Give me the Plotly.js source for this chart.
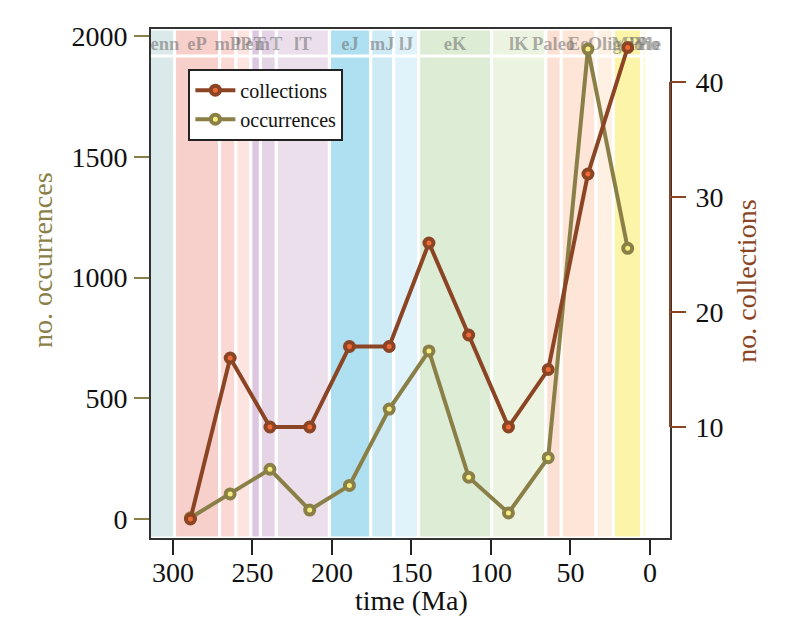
<!DOCTYPE html>
<html>
<head>
<meta charset="utf-8">
<script src="https://cdn.plot.ly/plotly-3.0.1.min.js"></script>
<style>
  html, body { margin: 0; padding: 0; background: #fff; }
  #chart { width: 789px; height: 617px; }
</style>
</head>
<body>
<div id="chart"></div>
<script>
// time bin midpoints (Ma)
const timeMa = [289, 264, 239, 214, 189, 164, 139, 114, 89, 64, 39, 14];
const collections = [2, 16, 10, 10, 17, 17, 26, 18, 10, 15, 32, 43];
const occurrences = [5, 104, 206, 37, 139, 455, 696, 173, 25, 254, 1946, 1121];

// geological intervals (Ma)
const intervalNames = ["Penn", "eP", "mP", "lP", "eT", "mT", "lT", "eJ", "mJ", "lJ",
  "eK", "lK", "Paleo", "Eo", "Olig", "Mio", "Plio", "Ple"];
const intervalBase = [318.1, 299.0, 270.6, 260.4, 251.0, 245.0, 235.0, 201.6, 175.6, 161.2,
  145.5, 99.6, 65.5, 55.8, 33.9, 23.03, 5.332, 1.806];
const intervalTop = [299.0, 270.6, 260.4, 251.0, 245.0, 235.0, 201.6, 175.6, 161.2, 145.5,
  99.6, 65.5, 55.8, 33.9, 23.03, 5.332, 1.806, 0.0118];
const intervalColors = ["#dae9e9", "#f8d0cb", "#fad8d3", "#fde4e1", "#ddc7e0", "#e5d3e6",
  "#eadfeb", "#afe0f1", "#cdeaf5", "#e1f3fa", "#ddecd5", "#ecf4e1", "#fde0d4", "#fde5d8",
  "#fef0e3", "#fcf5a9", "#fffadc", "#fffbec"];

const olive = "#8a7f47";
const brown = "#8b4524";
const serif = "Liberation Serif, Times New Roman, serif";

const bands = intervalNames.map((n, i) => ({
  type: "rect", layer: "below",
  xref: "x", yref: "paper",
  x0: intervalBase[i], x1: intervalTop[i], y0: 0, y1: 1,
  fillcolor: intervalColors[i],
  line: { color: "#ffffff", width: 3 },
}));

const shapes = bands.concat([
  { type: "line", layer: "below", xref: "paper", yref: "y",
    x0: 0, x1: 1, y0: 1917, y1: 1917, line: { color: "#ffffff", width: 3 } },
  { type: "line", layer: "above", xref: "paper", yref: "y2",
    x0: 1, x1: 1, y0: 10, y1: 40, line: { color: brown, width: 2 } },
]);

const labelTrace = {
  x: intervalNames.map((n, i) => (intervalBase[i] + intervalTop[i]) / 2),
  y: intervalNames.map(() => 1962),
  text: intervalNames,
  mode: "text",
  textposition: "middle center",
  textfont: { family: serif, size: 18.5, color: "rgba(105,105,105,0.55)", weight: "bold" },
  cliponaxis: true,
  hoverinfo: "skip",
  showlegend: false,
  yaxis: "y",
};

const occTrace = {
  x: timeMa, y: occurrences,
  name: "occurrences",
  mode: "lines+markers",
  line: { color: olive, width: 4 },
  marker: { size: 9, color: "#f6ee7e", line: { color: olive, width: 4 } },
  legendrank: 2,
  yaxis: "y",
};

const colTrace = {
  x: timeMa, y: collections,
  name: "collections",
  mode: "lines+markers",
  line: { color: brown, width: 4 },
  marker: { size: 9, color: "#f06a36", line: { color: brown, width: 4 } },
  legendrank: 1,
  yaxis: "y2",
};

const layout = {
  width: 789, height: 617,
  margin: { l: 151, r: 119, t: 29, b: 79 },
  paper_bgcolor: "#ffffff",
  plot_bgcolor: "#ffffff",
  font: { family: serif, size: 28, color: "#111" },
  showlegend: true,
  legend: {
    x: 0.072, y: 0.922, xanchor: "left", yanchor: "top",
    bgcolor: "#ffffff", bordercolor: "#222", borderwidth: 2,
    font: { family: serif, size: 20, color: "#111" },
    itemwidth: 40,
    tracegroupgap: 0,
  },
  xaxis: {
    range: [313.8, -12.6],
    tickvals: [300, 250, 200, 150, 100, 50, 0],
    ticks: "outside", ticklen: 15, tickwidth: 2, tickcolor: "#222",
    ticklabelstandoff: -7,
    showline: true, mirror: true, linecolor: "#333", linewidth: 2,
    showgrid: false, zeroline: false,
  },
  yaxis: {
    range: [-78.7, 2029],
    tickvals: [0, 500, 1000, 1500, 2000],
    ticks: "outside", ticklen: 15, tickwidth: 2, tickcolor: olive,
    ticklabelstandoff: 1,
    showline: true, mirror: true, linecolor: "#333", linewidth: 2,
    showgrid: false, zeroline: false,
  },
  yaxis2: {
    range: [0.35, 44.61],
    overlaying: "y", side: "right",
    tickvals: [10, 20, 30, 40],
    ticks: "outside", ticklen: 15, tickwidth: 2, tickcolor: brown,
    ticklabelstandoff: 4,
    showline: false, showgrid: false, zeroline: false,
  },
  shapes: shapes,
  annotations: [
    { text: "no. occurrences", xref: "paper", yref: "paper", x: -0.209, y: 0.545,
      xanchor: "center", yanchor: "middle",
      textangle: -90, showarrow: false, font: { family: serif, size: 28, color: olive } },
    { text: "no. collections", xref: "paper", yref: "paper", x: 1.148, y: 0.505,
      xanchor: "center", yanchor: "middle",
      textangle: -90, showarrow: false, font: { family: serif, size: 28, color: brown } },
    { text: "time (Ma)", xref: "paper", yref: "paper", x: 0.501, y: -0.122,
      xanchor: "center", yanchor: "middle",
      showarrow: false, font: { family: serif, size: 28, color: "#111" } },
  ],
};

Plotly.newPlot("chart", [labelTrace, occTrace, colTrace], layout, { displayModeBar: false, staticPlot: true });
</script>
</body>
</html>
